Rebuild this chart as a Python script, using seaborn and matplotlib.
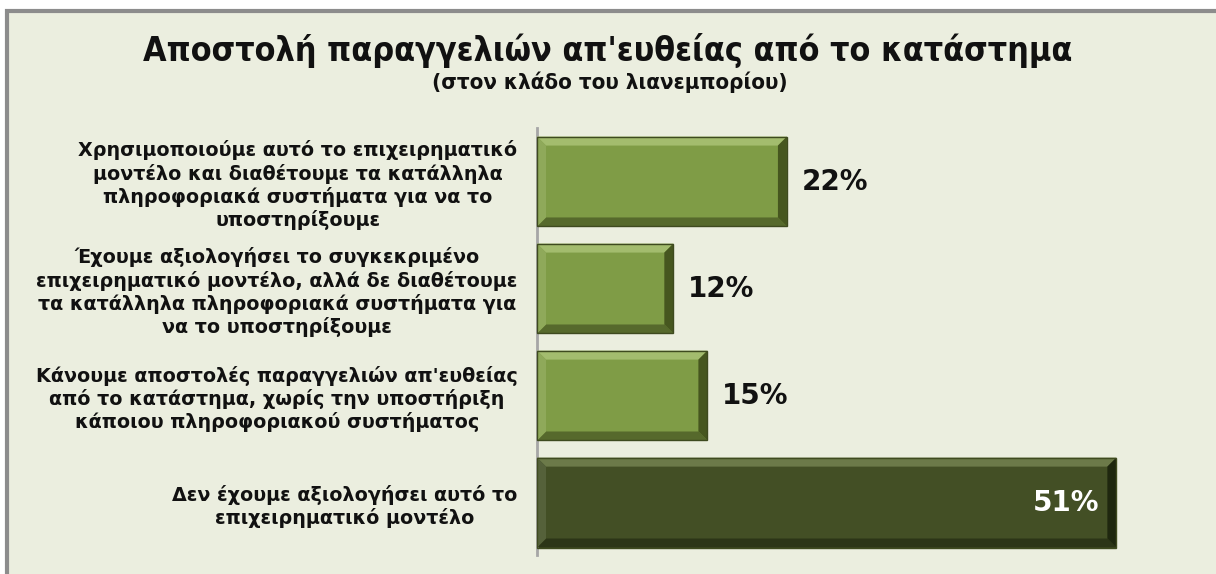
import matplotlib
matplotlib.use("Agg")
import matplotlib.pyplot as plt
import matplotlib.patches as mpatches
import seaborn as sns
import pandas as pd

categories = [
    "Χρησιμοποιούμε αυτό το επιχειρηματικό\nμοντέλο και διαθέτουμε τα κατάλληλα\nπληροφοριακά συστήματα για να το\nυποστηρίξουμε",
    "Έχουμε αξιολογήσει το συγκεκριμένο\nεπιχειρηματικό μοντέλο, αλλά δε διαθέτουμε\nτα κατάλληλα πληροφοριακά συστήματα για\nνα το υποστηρίξουμε",
    "Κάνουμε αποστολές παραγγελιών απ'ευθείας\nαπό το κατάστημα, χωρίς την υποστήριξη\nκάποιου πληροφοριακού συστήματος",
    "Δεν έχουμε αξιολογήσει αυτό το\nεπιχειρηματικό μοντέλο",
]
values = [22, 12, 15, 51]
groups = ["a", "a", "a", "b"]

title = "Αποστολή παραγγελιών απ'ευθείας από το κατάστημα"
subtitle = "(στον κλάδο του λιανεμπορίου)"

bar_colors = {"a": "#7f9c46", "b": "#434f25"}
bevel_colors = {
    "a": dict(top="#a3bc6e", left="#8fa95a", bottom="#56692c", right="#46561f"),
    "b": dict(top="#6c7a49", left="#55613a", bottom="#2c3517", right="#1f270f"),
}
bg = "#ebeedf"

sns.set_theme(style="white")
plt.rcParams["font.family"] = ["DejaVu Sans"]

W, H = 1216, 574
fig = plt.figure(figsize=(W / 100, H / 100), dpi=100)
fig.patch.set_facecolor("white")

# chart panel with grey frame
frame = mpatches.Rectangle((7 / W, -0.05), 1.2, 1 - 11 / H + 0.05,
                           transform=fig.transFigure, facecolor=bg,
                           edgecolor="#8c8c8c", linewidth=3, zorder=-10)
fig.patches.append(frame)

ax_left, ax_right = 537, 537 + 60 * 11.36
ax_top, ax_bot = 128, 555
ax = fig.add_axes([ax_left / W, 1 - ax_bot / H, (ax_right - ax_left) / W, (ax_bot - ax_top) / H])
ax.set_facecolor("none")

df = pd.DataFrame({"cat": categories, "val": values, "grp": groups})
sns.barplot(data=df, x="val", y="cat", hue="grp", palette=bar_colors,
            orient="h", width=0.84, dodge=False, legend=False, ax=ax,
            edgecolor="none", linewidth=0, saturation=1)

ax.set_xlim(0, 60)
ax.set_ylim(3.49, -0.5)
ax.set_xlabel("")
ax.set_ylabel("")
ax.set_xticks([])
ax.tick_params(axis="y", length=0, pad=14)
for lab in ax.get_yticklabels():
    lab.set_fontsize(13.8)
    lab.set_fontweight("bold")
    lab.set_color("#111111")
    lab.set_multialignment("center")
    lab.set_linespacing(1.2)
for s in ["top", "right", "bottom"]:
    ax.spines[s].set_visible(False)
ax.spines["left"].set_color("#a6a6a6")
ax.spines["left"].set_linewidth(2)
ax.spines["left"].set_zorder(5)

fig.canvas.draw()

# bevelled edges on each bar, built from the bar geometry in pixels
bars = [p for p in ax.patches if p.get_width() > 0]
bars.sort(key=lambda p: p.get_y())
bv = 9
for p in bars:
    grp = groups[int(round(p.get_y() + p.get_height() / 2))]
    bb = p.get_window_extent()
    x0, y0, x1, y1 = bb.x0, bb.y0, bb.x1, bb.y1
    c = bevel_colors[grp]
    polys = {
        "top": [(x0, y1), (x1, y1), (x1 - bv, y1 - bv), (x0 + bv, y1 - bv)],
        "bottom": [(x0, y0), (x1, y0), (x1 - bv, y0 + bv), (x0 + bv, y0 + bv)],
        "left": [(x0, y0), (x0, y1), (x0 + bv, y1 - bv), (x0 + bv, y0 + bv)],
        "right": [(x1, y0), (x1, y1), (x1 - bv, y1 - bv), (x1 - bv, y0 + bv)],
    }
    for side, pts in polys.items():
        poly = mpatches.Polygon(pts, closed=True, transform=None,
                                facecolor=c[side], edgecolor="none", zorder=3)
        fig.patches.append(poly)
    outline = mpatches.Rectangle((x0, y0), x1 - x0, y1 - y0, transform=None,
                                 fill=False, edgecolor="#3e4a1f", linewidth=1, zorder=4)
    fig.patches.append(outline)

# value labels
for i, v in enumerate(values):
    if v > 40:
        ax.text(v - 1.5, i, f"{v}%", ha="right", va="center", fontsize=20,
                fontweight="bold", color="white", zorder=6)
    else:
        ax.text(v + 1.3, i, f"{v}%", ha="left", va="center", fontsize=20,
                fontweight="bold", color="#111111", zorder=6)

fig.text(608 / W, 1 - 50 / H, title, ha="center", va="center",
         fontsize=24.4, fontweight="bold", fontstretch="condensed", color="#111111")
fig.text(610 / W, 1 - 82 / H, subtitle, ha="center", va="center",
         fontsize=16, fontweight="bold", fontstretch="condensed", color="#111111")

fig.savefig("out.png", dpi=100, facecolor=fig.get_facecolor())
